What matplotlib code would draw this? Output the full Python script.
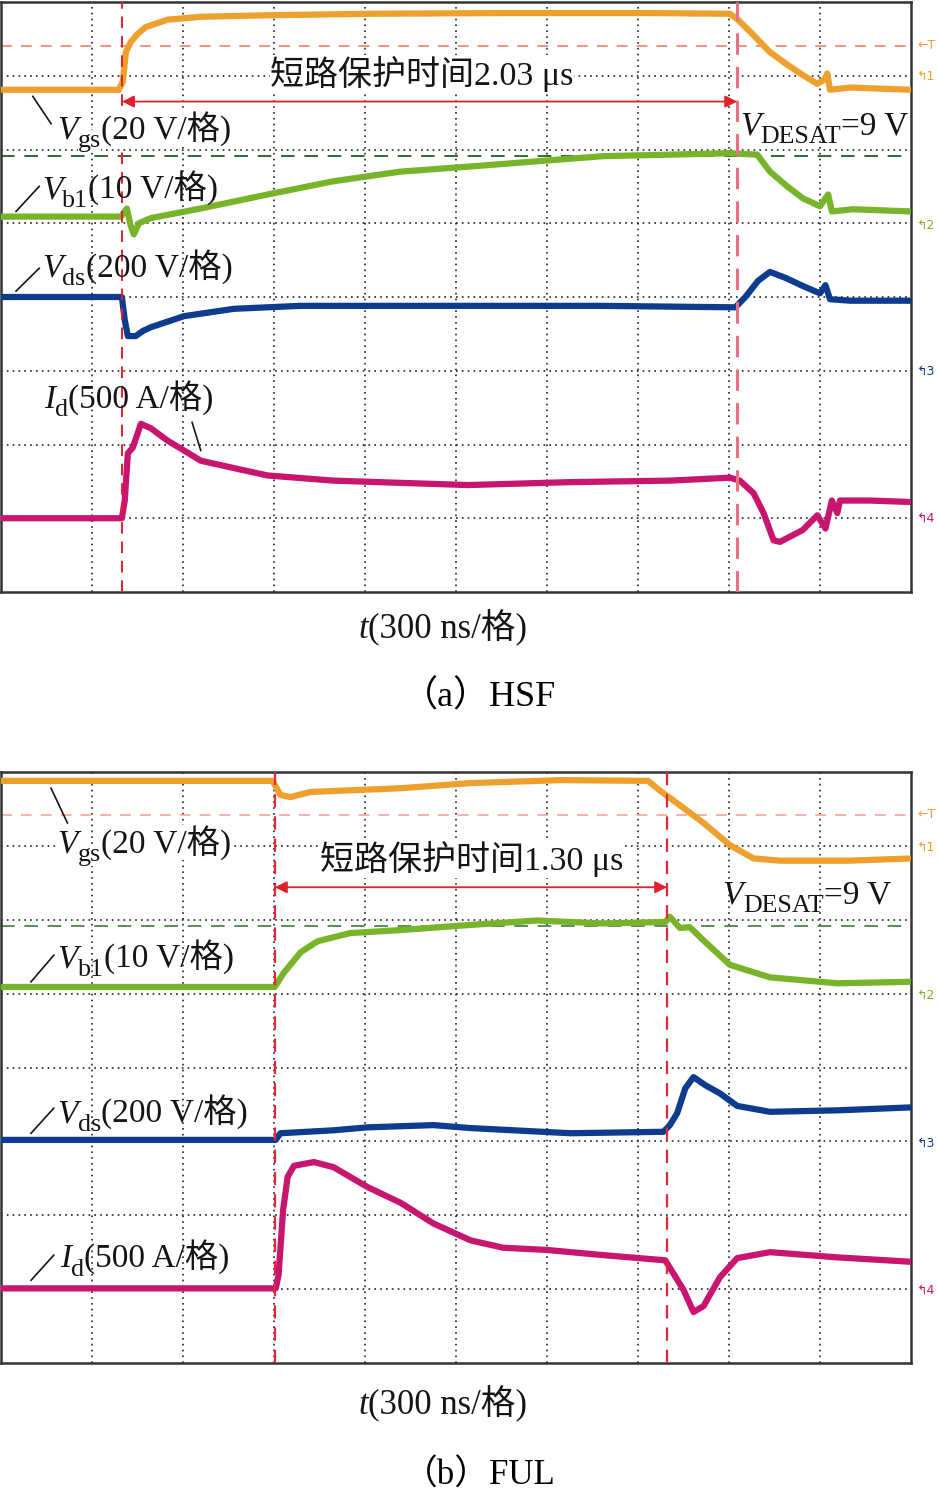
import numpy as np
import matplotlib
matplotlib.use('Agg')
import matplotlib.pyplot as plt

FAM = ['Liberation Serif', 'Noto Sans CJK SC']
plt.rcParams['font.family'] = FAM

# all values in screen divisions (x: 0..10, y: 0..8 from bottom)
# ---------------- (a) HSF ----------------
a_vgs_x = [0, 1.295, 1.339, 1.372, 1.427, 1.504, 1.59, 1.83, 2.20, 2.93, 4.03, 5.49, 7.14, 8.01,
           8.09, 8.27, 8.45, 8.64, 8.81, 8.97, 9.05, 9.08, 9.11, 9.33, 10]
a_vgs_y = [6.81, 6.81, 6.92, 7.32, 7.46, 7.57, 7.66, 7.76, 7.80, 7.82, 7.84, 7.85, 7.85, 7.84,
           7.77, 7.55, 7.32, 7.15, 7.01, 6.89, 6.95, 7.03, 6.81, 6.84, 6.81]
a_vb1_x = [0, 1.317, 1.383, 1.427, 1.46, 1.515, 1.647, 2.195, 2.93, 3.655, 4.39, 5.16, 5.89, 6.62,
           7.35, 8.01, 8.31, 8.45, 8.64, 8.81, 9.0, 9.09, 9.13, 9.36, 10]
a_vb1_y = [5.09, 5.09, 5.20, 4.96, 4.85, 5.0, 5.07, 5.20, 5.39, 5.57, 5.70, 5.77, 5.84, 5.91,
           5.93, 5.95, 5.93, 5.70, 5.50, 5.34, 5.23, 5.39, 5.16, 5.19, 5.16]
a_vds_x = [0, 1.328, 1.361, 1.394, 1.48, 1.56, 1.647, 2.01, 2.56, 3.29, 5.13, 6.59, 8.07, 8.18,
           8.32, 8.45, 8.62, 8.81, 9.0, 9.06, 9.11, 9.33, 10]
a_vds_y = [4.0, 4.0, 3.68, 3.47, 3.47, 3.54, 3.59, 3.74, 3.84, 3.88, 3.88, 3.88, 3.86, 4.0,
           4.22, 4.34, 4.26, 4.15, 4.05, 4.16, 3.97, 3.95, 3.95]
a_id_x = [0, 1.328, 1.36, 1.394, 1.449, 1.537, 1.647, 1.833, 2.01, 2.195, 2.56, 2.93, 3.655, 5.13,
          6.26, 7.35, 8.01, 8.12, 8.27, 8.38, 8.49, 8.56, 8.81, 8.97, 9.06, 9.13, 9.19, 9.22, 9.55, 10]
a_id_y = [1.0, 1.0, 1.24, 1.88, 1.96, 2.28, 2.22, 2.05, 1.92, 1.78, 1.68, 1.58, 1.51, 1.45,
          1.49, 1.51, 1.55, 1.51, 1.34, 1.07, 0.70, 0.68, 0.84, 1.04, 0.86, 1.24, 1.07, 1.24, 1.24, 1.22]
a_cursor_x = [1.33, 8.09]
a_marks_y = [7.41, 6.99, 4.97, 2.99, 1.0]

# ---------------- (b) FUL ----------------
b_vgs_x = [0, 2.986, 3.07, 3.18, 3.40, 4.39, 5.16, 6.15, 7.11, 7.24, 7.46, 7.72, 8.01, 8.27, 8.56, 9.33, 10]
b_vgs_y = [7.88, 7.88, 7.69, 7.66, 7.73, 7.78, 7.85, 7.89, 7.88, 7.75, 7.55, 7.31, 7.01, 6.83, 6.80, 6.80, 6.83]
b_vb1_x = [0, 3.008, 3.106, 3.293, 3.48, 3.84, 4.39, 5.16, 5.89, 6.62, 7.30, 7.35, 7.46, 7.57, 7.72,
           8.01, 8.45, 9.19, 10]
b_vb1_y = [5.09, 5.09, 5.28, 5.56, 5.71, 5.82, 5.86, 5.93, 5.99, 5.95, 5.97, 6.04, 5.89, 5.90, 5.72,
           5.39, 5.22, 5.14, 5.16]
b_vds_x = [0, 3.019, 3.07, 3.655, 4.03, 4.75, 5.16, 6.26, 7.28, 7.35, 7.43, 7.52, 7.61, 7.74, 7.90,
           8.09, 8.45, 9.19, 10]
b_vds_y = [3.02, 3.02, 3.11, 3.15, 3.19, 3.22, 3.18, 3.11, 3.13, 3.22, 3.38, 3.72, 3.87, 3.76, 3.65,
           3.48, 3.40, 3.42, 3.46]
b_id_x = [0, 3.019, 3.05, 3.10, 3.15, 3.22, 3.44, 3.655, 4.03, 4.39, 4.75, 5.16, 5.52, 6.0, 6.62,
          7.30, 7.50, 7.61, 7.72, 7.90, 8.09, 8.45, 9.19, 10]
b_id_y = [1.01, 1.01, 1.19, 2.07, 2.52, 2.67, 2.72, 2.65, 2.38, 2.17, 1.89, 1.66, 1.56, 1.53, 1.46,
          1.39, 0.99, 0.69, 0.77, 1.16, 1.42, 1.50, 1.43, 1.37]
b_cursor_x = [3.01, 7.32]
b_marks_y = [7.42, 6.98, 4.98, 2.98, 0.99]

c_vgs, c_vb1, c_vds, c_id = '#eea02e', '#78b42a', '#0d3b8e', '#c8156f'
mark_cols = [c_vgs, c_vgs, c_vb1, c_vds, c_id]
mark_txt = ['\u2190T', '\u21b01', '\u21b02', '\u21b03', '\u21b04']


def rich(ax, x, y, parts, size, trans=None, bg=False):
    # chain text pieces: 'it' italic, 'sub' subscript, 'rm' roman
    trans = trans or ax.transData
    prev = None
    for s, st in parts:
        fs = size * 0.78 if st == 'sub' else size
        kw = dict(fontsize=fs, family=FAM, style='italic' if st == 'it' else 'normal',
                  va='baseline', ha='left', color='#151515', zorder=6)
        if bg:
            kw['bbox'] = dict(fc='white', ec='none', pad=0.2)
        if prev is None:
            t = ax.text(x, y, s, transform=trans, clip_on=False, **kw)
        else:
            dy = -0.26 * size if st == 'sub' else 0
            t = ax.annotate(s, xy=(1, y), xycoords=(prev, trans), xytext=(0, dy),
                            textcoords='offset points', annotation_clip=False, **kw)
        prev = t


def leader(ax, xs, ys):
    ax.plot(xs, ys, color='#151515', lw=1.2, zorder=6, clip_on=False)


fig = plt.figure(figsize=(9.39, 14.96), dpi=100)
ax_a = fig.add_axes([1 / 939, (1496 - 592) / 1496, 910 / 939, 590 / 1496])
ax_b = fig.add_axes([1 / 939, (1496 - 1363) / 1496, 910 / 939, 591 / 1496])

for ax in (ax_a, ax_b):
    ax.set_xlim(0, 10)
    ax.set_ylim(0, 8)
    ax.set_xticks(range(1, 10))
    ax.set_yticks(range(1, 8))
    ax.tick_params(length=0, labelbottom=False, labelleft=False)
    ax.grid(True, color='#222222', linestyle=(0, (1, 2.5)), lw=1.2, zorder=1)
    for sp in ax.spines.values():
        sp.set_color('#333333')
        sp.set_linewidth(1.8)

# panel (a)
ax = ax_a
ax.axhline(7.41, color='#f08878', ls=(0, (6, 5)), lw=1.3, zorder=2)
ax.axhline(5.91, color='#2f6a32', ls=(0, (7, 5)), lw=1.4, zorder=2)
ax.axvline(a_cursor_x[0], color='#e0202c', ls=(0, (6, 4)), lw=1.4, zorder=5)
ax.axvline(a_cursor_x[1], color='#e87080', ls=(0, (7, 4)), lw=2.2, zorder=5)
for xs, ys, c in [(a_vgs_x, a_vgs_y, c_vgs), (a_vb1_x, a_vb1_y, c_vb1),
                  (a_vds_x, a_vds_y, c_vds), (a_id_x, a_id_y, c_id)]:
    ax.plot(xs, ys, color=c, lw=4.5, solid_joinstyle='round', zorder=4)
ax.annotate('', xy=(a_cursor_x[1], 6.65), xytext=(a_cursor_x[0], 6.65),
            arrowprops=dict(arrowstyle='<|-|>', color='#e0202c', lw=1.3, mutation_scale=18,
                            shrinkA=0, shrinkB=0), zorder=6)
rich(ax, 2.96, 6.88, [('短路保护时间2.03 μs', 'rm')], 24.5, bg=True)
rich(ax, 0.62, 6.15, [('V', 'it'), ('gs', 'sub'), ('(20 V/格)', 'rm')], 24, bg=True)
leader(ax, [0.35, 0.55], [6.72, 6.35])
rich(ax, 0.45, 5.34, [('V', 'it'), ('b1', 'sub'), ('(10 V/格)', 'rm')], 24)
leader(ax, [0.165, 0.42], [5.16, 5.50])
rich(ax, 0.45, 4.28, [('V', 'it'), ('ds', 'sub'), ('(200 V/格)', 'rm')], 24)
leader(ax, [0.165, 0.42], [4.08, 4.39])
rich(ax, 0.47, 2.50, [('I', 'it'), ('d', 'sub'), ('(500 A/格)', 'rm')], 24)
leader(ax, [2.10, 2.195], [2.30, 1.92])
rich(ax, 8.12, 6.20, [('V', 'it'), ('DESAT', 'sub'), ('=9 V', 'rm')], 24)
for yv, c, s in zip(a_marks_y, mark_cols, mark_txt):
    ax.text(10.07, yv, s, color=c, fontsize=9, va='center', ha='left', family='DejaVu Sans', clip_on=False)

# panel (b)
ax = ax_b
ax.axhline(7.42, color='#f4aaa2', ls=(0, (6, 5)), lw=1.3, zorder=2)
ax.axhline(5.91, color='#5a8c58', ls=(0, (7, 5)), lw=1.4, zorder=2)
for cx in b_cursor_x:
    ax.axvline(cx, color='#e0283a', ls=(0, (6, 4)), lw=1.6, zorder=5)
for xs, ys, c in [(b_vgs_x, b_vgs_y, c_vgs), (b_vb1_x, b_vb1_y, c_vb1),
                  (b_vds_x, b_vds_y, c_vds), (b_id_x, b_id_y, c_id)]:
    ax.plot(xs, ys, color=c, lw=4.5, solid_joinstyle='round', zorder=4)
ax.annotate('', xy=(b_cursor_x[1], 6.44), xytext=(b_cursor_x[0], 6.44),
            arrowprops=dict(arrowstyle='<|-|>', color='#e0202c', lw=1.3, mutation_scale=18,
                            shrinkA=0, shrinkB=0), zorder=6)
rich(ax, 3.51, 6.67, [('短路保护时间1.30 μs', 'rm')], 24.5, bg=True)
rich(ax, 0.62, 6.91, [('V', 'it'), ('gs', 'sub'), ('(20 V/格)', 'rm')], 24, bg=True)
leader(ax, [0.55, 0.73], [7.78, 7.31])
rich(ax, 0.62, 5.36, [('V', 'it'), ('b1', 'sub'), ('(10 V/格)', 'rm')], 24)
leader(ax, [0.33, 0.58], [5.16, 5.52])
rich(ax, 0.62, 3.26, [('V', 'it'), ('ds', 'sub'), ('(200 V/格)', 'rm')], 24)
leader(ax, [0.33, 0.58], [3.11, 3.45])
rich(ax, 0.65, 1.30, [('I', 'it'), ('d', 'sub'), ('(500 A/格)', 'rm')], 24)
leader(ax, [0.33, 0.58], [1.12, 1.46])
rich(ax, 7.93, 6.22, [('V', 'it'), ('DESAT', 'sub'), ('=9 V', 'rm')], 24)
for yv, c, s in zip(b_marks_y, mark_cols, mark_txt):
    ax.text(10.07, yv, s, color=c, fontsize=9, va='center', ha='left', family='DejaVu Sans', clip_on=False)

# axis labels and captions (figure coordinates)
for ypx in (638, 1414):
    rich(ax_a, 358 / 939, 1 - ypx / 1496, [('t', 'it'), ('(300 ns/格)', 'rm')], 25, trans=fig.transFigure)
fig.text(479 / 939, 1 - 697 / 1496, '（a）HSF', fontsize=26, ha='center', va='center', family=FAM)
fig.text(479 / 939, 1 - 1476 / 1496, '（b）FUL', fontsize=25, ha='center', va='center', family=FAM)

fig.savefig('out.png', dpi=100, facecolor='white')
